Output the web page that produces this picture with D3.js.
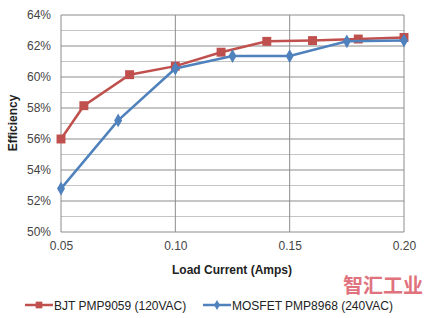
<!DOCTYPE html>
<html>
<head>
<meta charset="utf-8">
<script src="https://cdn.jsdelivr.net/npm/d3@7"></script>
<style>
  body { margin: 0; background: #fff; }
  text { font-family: Arial, "Liberation Sans", sans-serif; }
</style>
</head>
<body>
<svg id="chart" width="437" height="318"></svg>
<script>
// series values
const bjtLoad = [0.05, 0.06, 0.08, 0.10, 0.12, 0.14, 0.16, 0.18, 0.20]
const bjtEff = [56.0, 58.15, 60.15, 60.7, 61.6, 62.3, 62.35, 62.45, 62.55]
const mosLoad = [0.05, 0.075, 0.10, 0.125, 0.15, 0.175, 0.20]
const mosEff = [52.8, 57.2, 60.55, 61.35, 61.35, 62.3, 62.35]
const xTicks = [0.05, 0.10, 0.15, 0.20]
const yTicks = [50, 52, 54, 56, 58, 60, 62, 64]
const yMinor = [51, 53, 55, 57, 59, 61, 63]

const red = "#c0504d", blue = "#4f81bd"
const svg = d3.select("#chart")
const plotL = 61, plotR = 404, plotT = 15, plotB = 232

const x = d3.scaleLinear().domain([0.05, 0.20]).range([plotL, plotR])
const y = d3.scaleLinear().domain([50, 64]).range([plotB, plotT])

// grid
svg.append("g").selectAll("line").data(yMinor).enter().append("line")
    .attr("x1", plotL).attr("x2", plotR)
    .attr("y1", d => y(d)).attr("y2", d => y(d))
    .style("stroke", "#c4c4c4").style("stroke-width", 1)
svg.append("g").selectAll("line").data(yTicks).enter().append("line")
    .attr("x1", plotL).attr("x2", plotR)
    .attr("y1", d => y(d)).attr("y2", d => y(d))
    .style("stroke", "#8c8c8c").style("stroke-width", 1)
svg.append("g").selectAll("line").data(xTicks).enter().append("line")
    .attr("x1", d => x(d)).attr("x2", d => x(d))
    .attr("y1", plotT).attr("y2", plotB)
    .style("stroke", "#8c8c8c").style("stroke-width", 1)

// axes
svg.append("g")
    .attr("transform", "translate(" + plotL + ",0)")
    .call(d3.axisLeft(y).tickValues(yTicks).tickSize(0).tickPadding(10)
        .tickFormat(d => d + "%"))
svg.append("g")
    .attr("transform", "translate(0," + plotB + ")")
    .call(d3.axisBottom(x).tickValues(xTicks).tickSize(0).tickPadding(9)
        .tickFormat(d3.format(".2f")))
svg.selectAll(".domain").remove()
svg.selectAll(".tick text").style("font-size", "12px").style("fill", "#444")

// series
function drawSeries(xs, ys, color, shape, size) {
    const pts = xs.map((v, i) => [x(v), y(ys[i])])
    svg.append("path")
        .datum(pts)
        .attr("d", d3.line())
        .style("fill", "none").style("stroke", color).style("stroke-width", 2.5)
    svg.append("g").selectAll("path").data(pts).enter().append("path")
        .attr("transform", d => "translate(" + d[0] + "," + d[1] + ")")
        .attr("d", d3.symbol().type(shape).size(size))
        .style("fill", color)
}
drawSeries(bjtLoad, bjtEff, red, d3.symbolSquare, 80)
drawSeries(mosLoad, mosEff, blue, d3.symbolDiamond, 55)

// axis titles
svg.append("text")
    .attr("x", 232).attr("y", 274)
    .style("text-anchor", "middle").style("font-size", "12px").style("font-weight", "bold")
    .style("fill", "#222")
    .text("Load Current (Amps)")
svg.append("text")
    .attr("transform", "translate(17,123) rotate(-90)")
    .style("text-anchor", "middle").style("font-size", "12px").style("font-weight", "bold")
    .style("fill", "#222")
    .text("Efficiency")

// legend
const legendData = [
    {name: "BJT PMP9059 (120VAC)", color: red, shape: d3.symbolSquare, size: 45, x: 25},
    {name: "MOSFET PMP8968 (240VAC)", color: blue, shape: d3.symbolDiamond, size: 30, x: 203}
]
const legend = svg.selectAll(".legends").data(legendData).enter().append("g")
    .attr("class", "legends")
    .attr("transform", d => "translate(" + d.x + ",305)")
legend.append("line")
    .attr("x1", 0).attr("x2", 28).attr("y1", 0).attr("y2", 0)
    .style("stroke", d => d.color).style("stroke-width", 2.5)
legend.append("path")
    .attr("transform", "translate(14,0)")
    .attr("d", d => d3.symbol().type(d.shape).size(d.size)())
    .style("fill", d => d.color)
legend.append("text")
    .attr("x", 29).attr("y", 4.5)
    .style("font-size", "12px").style("fill", "#222")
    .text(d => d.name)

// watermark
svg.append("text")
    .attr("x", 343).attr("y", 293)
    .style("font-family", "'Noto Sans CJK SC', sans-serif")
    .style("font-size", "20px").style("font-weight", "bold")
    .style("fill", "#d9505e").style("opacity", 0.8)
    .text("智汇工业")
</script>
</body>
</html>
